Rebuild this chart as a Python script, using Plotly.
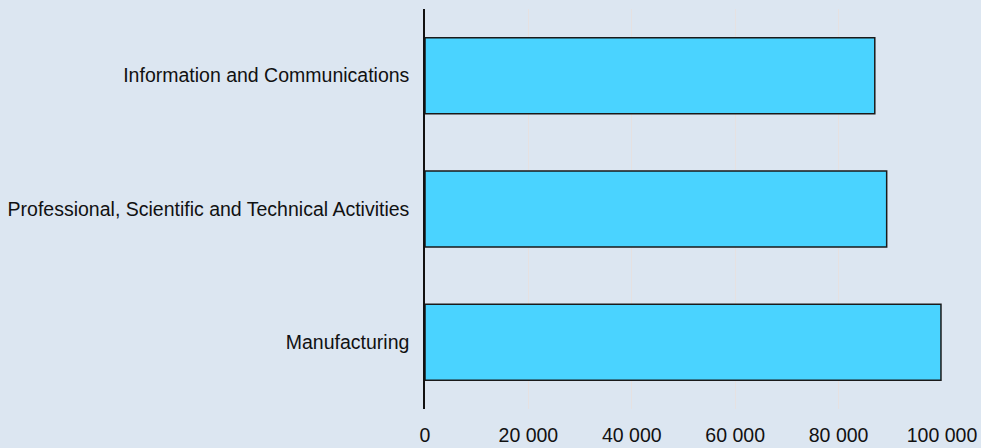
import plotly.graph_objects as go

categories = ["Information and Communications",
              "Professional, Scientific and Technical Activities",
              "Manufacturing"]
values = [87000, 89300, 99800]
tick_vals = [0, 20000, 40000, 60000, 80000, 100000]
tick_text = ["0", "20 000", "40 000", "60 000", "80 000", "100 000"]

fig = go.Figure(go.Bar(
    y=categories, x=values, orientation="h",
    marker=dict(color="#4AD3FF", line=dict(color="#1a1a1a", width=1.5)),
    hoverinfo="skip",
))

fig.update_layout(
    width=981, height=448,
    margin=dict(l=425, r=39, t=9, b=39),
    paper_bgcolor="#DCE6F1", plot_bgcolor="#DCE6F1",
    bargap=0.43,
    font=dict(family="Liberation Sans, Arial, sans-serif", size=19.5, color="#111111"),
    showlegend=False,
)
fig.update_xaxes(
    range=[0, 100000], tickvals=tick_vals, ticktext=tick_text,
    showgrid=True, gridcolor="#E6E1E1", gridwidth=1,
    zeroline=False, showline=False, ticklabelstandoff=12, automargin=False,
)
fig.update_yaxes(
    autorange="reversed", showline=True, linecolor="#111111", linewidth=1.5,
    showgrid=False, ticks="outside", ticklen=10, tickcolor="rgba(0,0,0,0)",
    automargin=False,
)
fig.write_html("out.html", config={"displayModeBar": False},
               post_script="document.body.style.margin='0';document.body.style.padding='0';")
